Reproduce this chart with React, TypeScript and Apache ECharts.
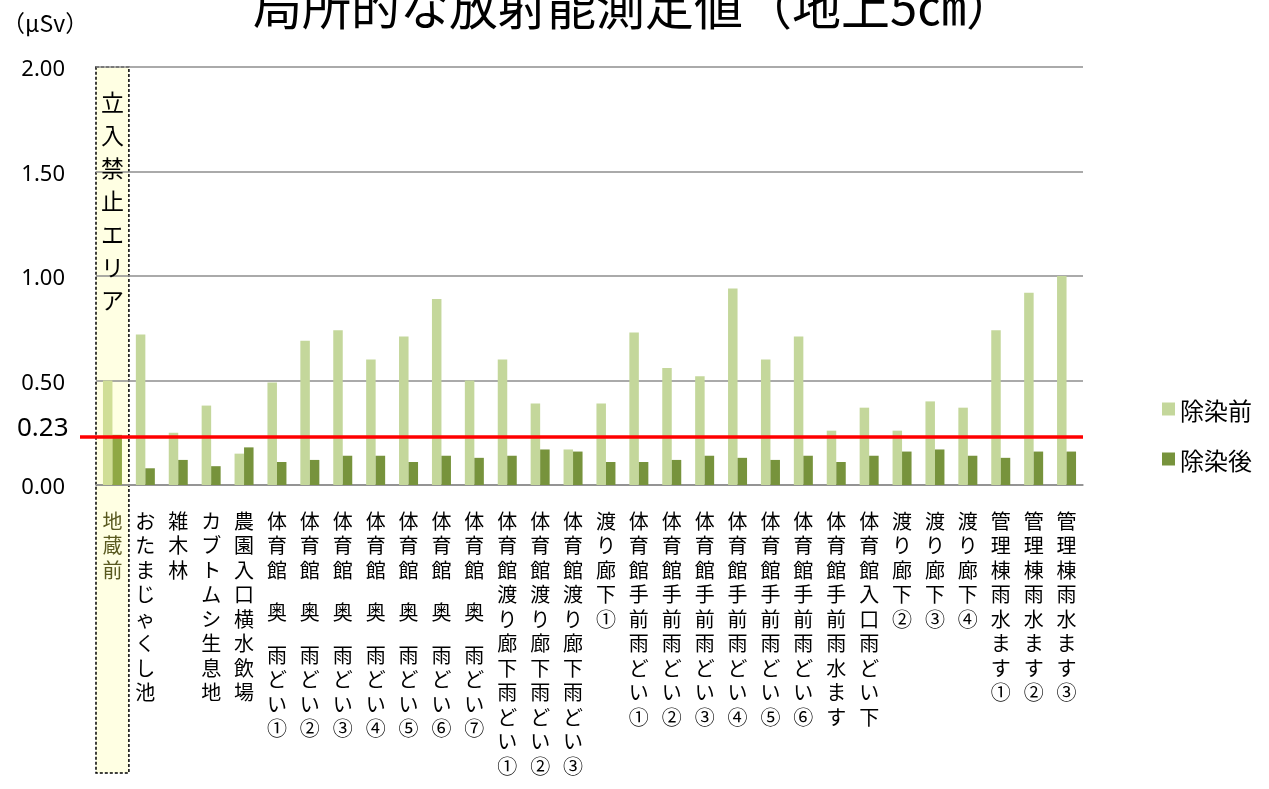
import React, { useEffect, useRef } from 'react';
import * as echarts from 'echarts';

const categories = [
  '地蔵前',
  'おたまじゃくし池',
  '雑木林',
  'カブトムシ生息地',
  '農園入口横水飲場',
  '体育館 奥 雨どい①',
  '体育館 奥 雨どい②',
  '体育館 奥 雨どい③',
  '体育館 奥 雨どい④',
  '体育館 奥 雨どい⑤',
  '体育館 奥 雨どい⑥',
  '体育館 奥 雨どい⑦',
  '体育館渡り廊下雨どい①',
  '体育館渡り廊下雨どい②',
  '体育館渡り廊下雨どい③',
  '渡り廊下①',
  '体育館手前雨どい①',
  '体育館手前雨どい②',
  '体育館手前雨どい③',
  '体育館手前雨どい④',
  '体育館手前雨どい⑤',
  '体育館手前雨どい⑥',
  '体育館手前雨水ます',
  '体育館入口雨どい下',
  '渡り廊下②',
  '渡り廊下③',
  '渡り廊下④',
  '管理棟雨水ます①',
  '管理棟雨水ます②',
  '管理棟雨水ます③',
];

const before = [0.5, 0.72, 0.25, 0.38, 0.15, 0.49, 0.69, 0.74, 0.6, 0.71, 0.89, 0.5, 0.6, 0.39, 0.17, 0.39, 0.73, 0.56, 0.52, 0.94, 0.6, 0.71, 0.26, 0.37, 0.26, 0.4, 0.37, 0.74, 0.92, 1.0];
const after = [0.24, 0.08, 0.12, 0.09, 0.18, 0.11, 0.12, 0.14, 0.14, 0.11, 0.14, 0.13, 0.14, 0.17, 0.16, 0.11, 0.11, 0.12, 0.14, 0.13, 0.12, 0.14, 0.11, 0.14, 0.16, 0.17, 0.14, 0.13, 0.16, 0.16];

const seriesNames = ['除染前', '除染後'];
const limitValue = 0.23;
const restrictedLabel = '立入禁止エリア';
const titleText = '局所的な放射能測定値（地上5㎝）';
const unitText = '（μSv）';

const CJK = '"Noto Sans CJK JP", "Noto Sans", sans-serif';
const LIGHT = '#c4d79b';
const DARK = '#77933c';
const LIGHT0 = '#d0de96';
const DARK0 = '#8fa844';

export default function App() {
  const ref = useRef<HTMLDivElement>(null);
  useEffect(() => {
    const chart = echarts.init(ref.current!, null, { renderer: 'svg' });
    chart.setOption({
      animation: false,
      grid: { left: 96, right: 186, top: 67, bottom: 304, containLabel: false },
      legend: {
        orient: 'vertical',
        left: 1157,
        top: 391,
        itemWidth: 13,
        itemHeight: 13,
        itemGap: 24,
        icon: 'rect',
        data: seriesNames,
        textStyle: { fontFamily: CJK, fontSize: 24, color: '#000', lineHeight: 26 },
      },
      xAxis: {
        type: 'category',
        data: categories.map((c, i) =>
          i === 0 ? { value: c, textStyle: { color: '#59591f' } } : c
        ),
        axisLine: { show: true, lineStyle: { color: '#8e8e8e', width: 1.5 } },
        axisTick: { show: false },
        axisLabel: {
          interval: 0,
          margin: 23,
          verticalAlign: 'top',
          fontFamily: CJK,
          fontSize: 20,
          lineHeight: 24.5,
          color: '#000',
          formatter: (v: string) =>
            v
              .split('')
              .map((c) => (c === ' ' ? '{s| }' : c))
              .join('\n'),
          rich: { s: { fontSize: 10, lineHeight: 18 } },
        },
      },
      yAxis: {
        type: 'value',
        min: 0,
        max: 2,
        interval: 0.5,
        axisLine: { show: false },
        axisTick: { show: false },
        splitLine: { lineStyle: { color: '#8e8e8e', width: 1.5 } },
        axisLabel: {
          margin: 31,
          fontFamily: '"Noto Sans", sans-serif',
          fontSize: 22,
          color: '#000',
          formatter: (v: number) => v.toFixed(2),
        },
      },
      series: [
        {
          name: seriesNames[0],
          type: 'bar',
          barWidth: 9.5,
          barGap: '0%',
          itemStyle: { color: LIGHT },
          data: before.map((v, i) => (i === 0 ? { value: v, itemStyle: { color: LIGHT0 } } : v)),
        },
        {
          name: seriesNames[1],
          type: 'bar',
          barWidth: 9.5,
          barGap: '0%',
          itemStyle: { color: DARK },
          data: after.map((v, i) => (i === 0 ? { value: v, itemStyle: { color: DARK0 } } : v)),
        },
      ],
    });

    const yLimit = chart.convertToPixel({ yAxisIndex: 0 }, limitValue) as number;
    const yTop = chart.convertToPixel({ yAxisIndex: 0 }, 2) as number;
    const x0 = chart.convertToPixel({ xAxisIndex: 0 }, 0) as number;
    const x1 = chart.convertToPixel({ xAxisIndex: 0 }, 1) as number;
    const band = x1 - x0;
    const xRight = x0 + band * (categories.length - 0.5);

    chart.setOption({
      graphic: [
        {
          type: 'rect',
          z: -10,
          shape: { x: x0 - band / 2, y: yTop, width: band, height: 773 - yTop },
          style: { fill: '#ffffe3', stroke: '#000', lineWidth: 1.5, lineDash: [3, 2] },
        },
        {
          type: 'text',
          z: 20,
          x: x0,
          y: 84,
          style: {
            text: restrictedLabel.split('').join('\n'),
            fontFamily: CJK,
            fontSize: 23,
            lineHeight: 33,
            fill: '#000',
            textAlign: 'center',
            textVerticalAlign: 'top',
          },
        },
        {
          type: 'line',
          z: 20,
          shape: { x1: 80, y1: yLimit, x2: xRight, y2: yLimit },
          style: { stroke: '#ff0000', lineWidth: 3.5 },
        },
        {
          type: 'text',
          z: 20,
          x: 17,
          y: yLimit - 11,
          style: {
            text: limitValue.toFixed(2),
            fontFamily: '"Noto Sans", sans-serif',
            fontSize: 26,
            fill: '#000',
            textAlign: 'left',
            textVerticalAlign: 'middle',
          },
        },
        {
          type: 'text',
          z: 20,
          x: 2,
          y: 22,
          style: {
            text: unitText,
            fontFamily: CJK,
            fontSize: 23,
            fill: '#000',
            textAlign: 'left',
            textVerticalAlign: 'middle',
          },
        },
        {
          type: 'text',
          z: 20,
          x: 634,
          y: 3,
          style: {
            text: titleText,
            fontFamily: CJK,
            fontSize: 49,
            fill: '#000',
            textAlign: 'center',
            textVerticalAlign: 'middle',
          },
        },
      ],
    });

    return () => chart.dispose();
  }, []);
  return (
    <div
      ref={ref}
      style={{ position: 'fixed', left: 0, top: 0, width: 1269, height: 789 }}
    />
  );
}
